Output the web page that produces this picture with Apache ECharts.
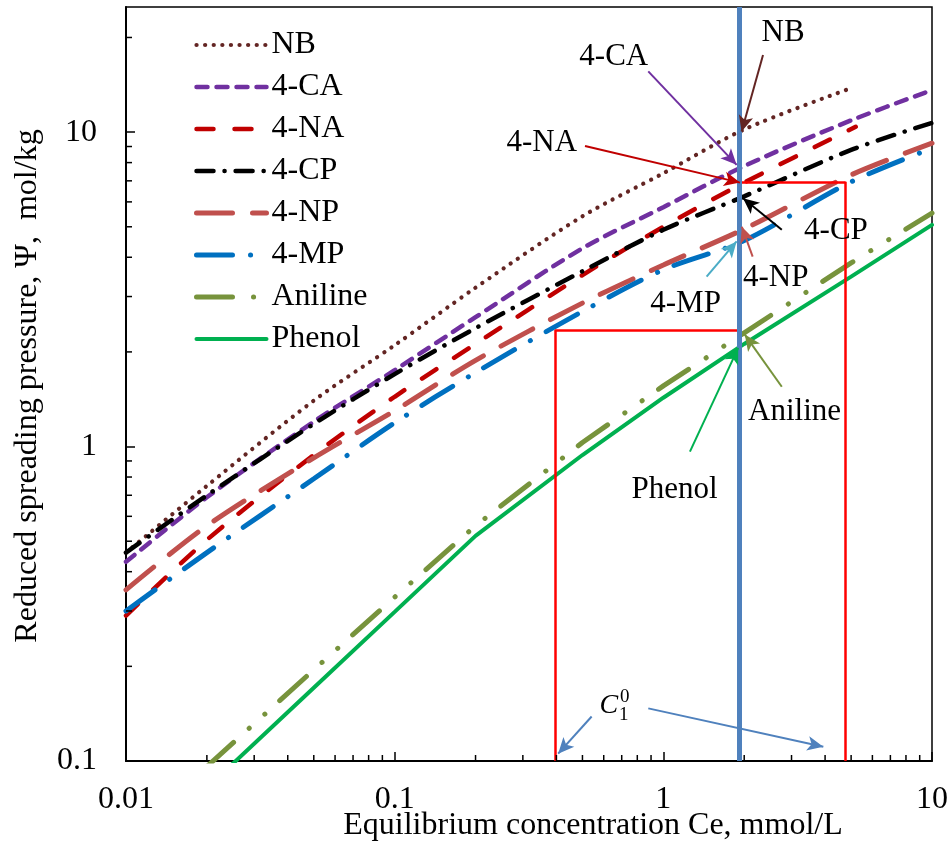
<!DOCTYPE html>
<html>
<head>
<meta charset="utf-8">
<title>Reduced spreading pressure vs equilibrium concentration</title>
<script src="https://cdn.jsdelivr.net/npm/echarts@6/dist/echarts.min.js"></script>
<style>
  html, body { margin: 0; padding: 0; background: #fff; }
  #chart { width: 952px; height: 844px; }
</style>
</head>
<body>
<div id="chart"></div>
<script>
// equilibrium concentration Ce, mmol/L
const CE = [0.01, 0.02, 0.05, 0.1, 0.2, 0.5, 1, 2, 5, 10];
const CE_NB = [0.01, 0.02, 0.05, 0.1, 0.2, 0.5, 1, 2, 5];
const CE_NA = [0.01, 0.02, 0.05, 0.1, 0.2, 0.5, 1, 2, 5.2];
const CE_LOW = [0.02, 0.05, 0.1, 0.2, 0.5, 1, 2, 5, 10];

// reduced spreading pressure, mol/kg
const PSI_NB = [0.46, 0.75, 1.40, 2.1, 3.2, 5.4, 7.4, 10.2, 13.8];
const PSI_4CA = [0.43, 0.69, 1.20, 1.75, 2.58, 4.27, 5.77, 7.8, 10.9, 13.6];
const PSI_4NA = [0.29, 0.505, 0.94, 1.44, 2.12, 3.51, 5.0, 6.91, 10.4];
const PSI_4CP = [0.46, 0.70, 1.18, 1.70, 2.38, 3.61, 4.89, 6.25, 8.78, 10.7];
const PSI_4NP = [0.35, 0.56, 0.92, 1.30, 1.88, 2.86, 3.78, 4.92, 7.31, 9.22];
const PSI_4MP = [0.30, 0.46, 0.79, 1.19, 1.72, 2.69, 3.65, 4.52, 6.95, 8.89];
const PSI_ANILINE = [0.096, 0.195, 0.332, 0.56, 1.03, 1.56, 2.3, 3.84, 5.53];
const PSI_PHENOL = [0.082, 0.171, 0.298, 0.52, 0.94, 1.43, 2.12, 3.47, 5.07];

// axis ranges and minor ticks
const X_MIN = 0.01, X_MAX = 10;
const Y_MIN = 0.1, Y_MAX = 25;
const MINOR_X = [0.02, 0.03, 0.04, 0.05, 0.06, 0.07, 0.08, 0.09,
                 0.2, 0.3, 0.4, 0.5, 0.6, 0.7, 0.8, 0.9,
                 2, 3, 4, 5, 6, 7, 8, 9];
const MINOR_Y = [0.2, 0.3, 0.4, 0.5, 0.6, 0.7, 0.8, 0.9,
                 2, 3, 4, 5, 6, 7, 8, 9, 20];

// C1^0 construction: vertical marker and the two red boxes [Ce, Psi]
const C_MARK = 1.92;
const BOX_LOW = [0.395, 2.35];
const BOX_HIGH = [4.77, 6.95];

// annotation arrows: [key, from [Ce, Psi], to [Ce, Psi]]
const ARROWS = [
  ['NB', [2.35, 17.6], [1.956, 10.04]],
  ['4-CA', [0.879, 15.6], [1.874, 7.87]],
  ['4-NA', [0.511, 9.04], [1.93, 6.91]],
  ['4-CP', [2.76, 4.89], [1.98, 6.16]],
  ['4-NP', [2.15, 4.02], [1.96, 5.0]],
  ['4-MP', [1.449, 3.47], [1.874, 4.49]],
  ['Aniline', [2.76, 1.55], [2.01, 2.27]],
  ['Phenol', [1.256, 0.964], [1.9, 2.06]],
  ['C', [0.541, 0.1385], [0.406, 0.1055]],
  ['C', [0.879, 0.147], [3.94, 0.111]]
];
// annotation texts: [text, Ce, Psi]
const LABELS = [
  ['NB', 2.79, 20.7],
  ['4-CA', 0.654, 17.3],
  ['4-NA', 0.353, 9.24],
  ['4-CP', 4.39, 4.85],
  ['4-NP', 2.62, 3.44],
  ['4-MP', 1.21, 2.84],
  ['Aniline', 3.08, 1.29],
  ['Phenol', 1.10, 0.728]
];
const C_LABEL = [['C', 0.627, 0.150], ['0', 0.718, 0.160], ['1', 0.712, 0.140]];

const FONT = "'Liberation Serif', 'Times New Roman', serif";
const COLORS = {
  'NB': '#632523', '4-CA': '#7030A0', '4-NA': '#C00000', '4-CP': '#000000',
  '4-NP': '#C0504D', '4-MP': '#0070C0', 'Aniline': '#77933C', 'Phenol': '#00B050',
  'C': '#4F81BD'
};
const ARROW_COLORS = Object.assign({}, COLORS, { '4-MP': '#4BACC6' });

function pairs(xs, ys) {
  return xs.map((x, i) => [x, ys[i]]);
}

function curve(name, xs, ys, width, dash, smooth) {
  return {
    name: name,
    type: 'line',
    data: pairs(xs, ys),
    symbol: 'none',
    smooth: smooth,
    silent: true,
    clip: true,
    lineStyle: { color: COLORS[name], width: width, type: dash, cap: 'round' },
    itemStyle: { color: COLORS[name] },
    z: 3
  };
}

const chart = echarts.init(document.getElementById('chart'));
const redLine = { color: '#FF0000', width: 2.5, type: 'solid' };
const textStyle = { fontFamily: FONT, color: '#000', textBorderWidth: 0, textShadowBlur: 0 };

chart.setOption({
  animation: false,
  backgroundColor: '#fff',
  grid: {
    left: 126, right: 20, top: 7, bottom: 83,
    outerBoundsMode: 'none',
    containLabel: false,
    show: true, borderColor: '#000', borderWidth: 1.5
  },
  legend: {
    orient: 'vertical',
    left: 194,
    top: 29,
    padding: 0,
    itemWidth: 70,
    itemHeight: 14,
    itemGap: 10,
    selectedMode: false,
    itemStyle: { opacity: 0 },
    lineStyle: { width: 'inherit' },
    data: ['NB', '4-CA', '4-NA', '4-CP', '4-NP', '4-MP', 'Aniline', 'Phenol'],
    textStyle: Object.assign({ fontSize: 32, lineHeight: 32 }, textStyle)
  },
  xAxis: {
    type: 'log',
    logBase: 10,
    min: X_MIN,
    max: X_MAX,
    name: 'Equilibrium concentration Ce, mmol/L',
    nameLocation: 'middle',
    nameGap: 49,
    nameMoveOverlap: false,
    nameTextStyle: Object.assign({ fontSize: 32, padding: [0, 0, 0, 128] }, textStyle),
    axisLine: { onZero: false, lineStyle: { color: '#000', width: 2 } },
    axisTick: { inside: true, length: 9, lineStyle: { color: '#000', width: 1.5 } },
    axisLabel: Object.assign({ fontSize: 32, margin: 23 }, textStyle),
    splitLine: { show: false }
  },
  yAxis: {
    type: 'log',
    logBase: 10,
    min: Y_MIN,
    max: Y_MAX,
    name: 'Reduced spreading pressure, Ψ,  mol/kg',
    nameLocation: 'middle',
    nameGap: 82,
    nameMoveOverlap: false,
    nameTextStyle: Object.assign({ fontSize: 32, padding: [0, 4, 0, 0] }, textStyle),
    axisLine: { onZero: false, lineStyle: { color: '#000', width: 2 } },
    axisTick: { inside: true, length: 9, lineStyle: { color: '#000', width: 1.5 } },
    axisLabel: Object.assign({ fontSize: 32, margin: 29, showMaxLabel: false }, textStyle),
    splitLine: { show: false }
  },
  series: [
    curve('NB', CE_NB, PSI_NB, 4.2, [0.1, 8.5], 0.3),
    curve('4-CA', CE, PSI_4CA, 4.5, [11, 9], 0.3),
    curve('4-NA', CE_NA, PSI_4NA, 4.5, [17, 21], 0.3),
    curve('4-CP', CE, PSI_4CP, 4.5, [17, 11, 0.1, 11], 0.3),
    curve('4-NP', CE, PSI_4NP, 5, [36, 20], 0.3),
    curve('4-MP', CE, PSI_4MP, 5, [36, 18, 0.1, 18], 0.3),
    curve('Aniline', CE_LOW, PSI_ANILINE, 5, [36, 21, 0.1, 21, 0.1, 20], 0),
    curve('Phenol', CE_LOW, PSI_PHENOL, 4, 'solid', 0),
    {
      // minor ticks on the x axis
      type: 'custom',
      silent: true,
      z: 10,
      data: MINOR_X.map(v => [v, Y_MIN]),
      renderItem: function (params, api) {
        const p = api.coord([api.value(0), api.value(1)]);
        return {
          type: 'line',
          shape: { x1: p[0], y1: p[1], x2: p[0], y2: p[1] - 6 },
          style: { stroke: '#000', lineWidth: 1.5 }
        };
      }
    },
    {
      // minor ticks on the y axis
      type: 'custom',
      silent: true,
      z: 10,
      data: MINOR_Y.map(v => [X_MIN, v]),
      renderItem: function (params, api) {
        const p = api.coord([api.value(0), api.value(1)]);
        return {
          type: 'line',
          shape: { x1: p[0], y1: p[1], x2: p[0] + 6, y2: p[1] },
          style: { stroke: '#000', lineWidth: 1.5 }
        };
      }
    },
    {
      // red boxes and blue C1^0 marker
      type: 'line',
      data: [],
      silent: true,
      z: 5,
      markLine: {
        silent: true,
        animation: false,
        symbol: ['none', 'none'],
        label: { show: false },
        lineStyle: { type: 'solid' },
        data: [
          [{ coord: [BOX_LOW[0], Y_MIN], lineStyle: redLine }, { coord: [BOX_LOW[0], BOX_LOW[1]] }],
          [{ coord: [BOX_LOW[0], BOX_LOW[1]], lineStyle: redLine }, { coord: [C_MARK, BOX_LOW[1]] }],
          [{ coord: [C_MARK, BOX_HIGH[1]], lineStyle: redLine }, { coord: [BOX_HIGH[0], BOX_HIGH[1]] }],
          [{ coord: [BOX_HIGH[0], BOX_HIGH[1]], lineStyle: redLine }, { coord: [BOX_HIGH[0], Y_MIN] }],
          { xAxis: C_MARK, lineStyle: { color: '#4F81BD', width: 5, type: 'solid' } }
        ]
      }
    },
    {
      // annotation arrows
      type: 'line',
      data: [],
      silent: true,
      z: 6,
      markLine: {
        silent: true,
        animation: false,
        symbol: ['none', 'arrow'],
        symbolSize: [11, 16],
        label: { show: false },
        lineStyle: { type: 'solid', width: 2 },
        data: ARROWS.map(a => [
          { coord: a[1], lineStyle: { color: ARROW_COLORS[a[0]], width: 2, type: 'solid' } },
          { coord: a[2] }
        ])
      }
    },
    {
      // annotation texts
      type: 'scatter',
      silent: true,
      symbolSize: 0,
      z: 7,
      itemStyle: { color: '#000', opacity: 1 },
      label: Object.assign({
        show: true,
        position: 'inside',
        formatter: '{b}',
        fontSize: 31,
        opacity: 1
      }, textStyle),
      data: LABELS.map(l => ({ name: l[0], value: [l[1], l[2]] })).concat([
        { name: C_LABEL[0][0], value: [C_LABEL[0][1], C_LABEL[0][2]], label: { fontSize: 28, fontStyle: 'italic' } },
        { name: C_LABEL[1][0], value: [C_LABEL[1][1], C_LABEL[1][2]], label: { fontSize: 19 } },
        { name: C_LABEL[2][0], value: [C_LABEL[2][1], C_LABEL[2][2]], label: { fontSize: 19 } }
      ])
    }
  ]
});
</script>
</body>
</html>
